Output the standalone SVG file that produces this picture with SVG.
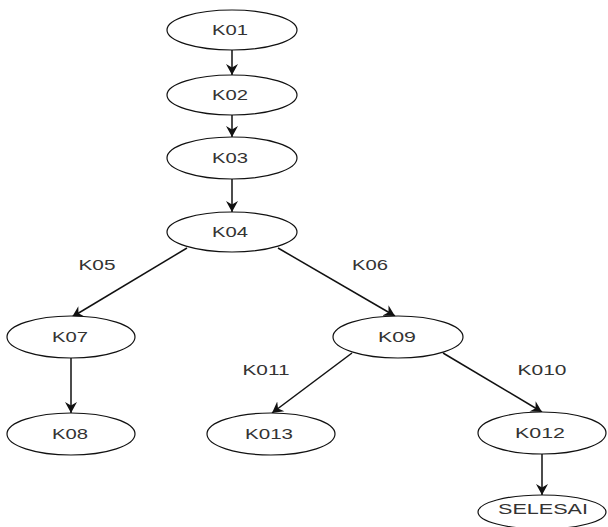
<svg xmlns="http://www.w3.org/2000/svg" width="608" height="527" viewBox="0 0 608 527">
<style>
.n ellipse{fill:#fff;stroke:#111;stroke-width:1.2}
text{font-family:"Liberation Sans",Arial,sans-serif;font-size:14.5px;fill:#333;text-anchor:middle;dominant-baseline:central}
.e line{stroke:#111;stroke-width:1.5;marker-end:url(#arr)}
</style>
<defs>
<marker id="arr" markerUnits="userSpaceOnUse" markerWidth="13" markerHeight="13" refX="11" refY="6.5" orient="auto">
<path d="M0,0.5 L11,6.5 L0,12.5 L3.5,6.5 z" fill="#111"/>
</marker>
</defs>
<rect width="608" height="527" fill="#fff"/>
<g id="connectors" class="e">
<line x1="232" y1="50" x2="232" y2="75"/>
<line x1="232" y1="115" x2="232" y2="137"/>
<line x1="232" y1="179" x2="232" y2="212"/>
<line x1="187" y1="248" x2="72" y2="317"/>
<line x1="278" y1="248" x2="395" y2="316"/>
<line x1="71" y1="358" x2="71" y2="413"/>
<line x1="352" y1="353" x2="272" y2="413"/>
<line x1="443" y1="353" x2="542" y2="412"/>
<line x1="542" y1="454" x2="542" y2="495"/>
<text x="97" y="265" textLength="37" lengthAdjust="spacingAndGlyphs">K05</text>
<text x="370" y="265" textLength="36" lengthAdjust="spacingAndGlyphs">K06</text>
<text x="266" y="370" textLength="47" lengthAdjust="spacingAndGlyphs">K011</text>
<text x="542" y="370" textLength="49" lengthAdjust="spacingAndGlyphs">K010</text>
</g>
<g id="K01" class="n"><ellipse cx="232" cy="30" rx="65" ry="20"/><text x="230" y="30" textLength="36" lengthAdjust="spacingAndGlyphs">K01</text></g>
<g id="K02" class="n"><ellipse cx="232" cy="95" rx="65" ry="20"/><text x="230" y="95" textLength="36" lengthAdjust="spacingAndGlyphs">K02</text></g>
<g id="K03" class="n"><ellipse cx="232" cy="158" rx="65" ry="21"/><text x="230" y="158" textLength="36" lengthAdjust="spacingAndGlyphs">K03</text></g>
<g id="K04" class="n"><ellipse cx="232" cy="232" rx="65" ry="20"/><text x="230" y="232" textLength="36" lengthAdjust="spacingAndGlyphs">K04</text></g>
<g id="K07" class="n"><ellipse cx="71" cy="337" rx="64" ry="21"/><text x="70" y="337" textLength="36" lengthAdjust="spacingAndGlyphs">K07</text></g>
<g id="K08" class="n"><ellipse cx="71" cy="434" rx="64" ry="21"/><text x="70" y="434" textLength="36" lengthAdjust="spacingAndGlyphs">K08</text></g>
<g id="K09" class="n"><ellipse cx="398" cy="337" rx="65" ry="21"/><text x="397" y="337" textLength="38" lengthAdjust="spacingAndGlyphs">K09</text></g>
<g id="K013" class="n"><ellipse cx="271" cy="434" rx="64" ry="21"/><text x="269" y="434" textLength="48" lengthAdjust="spacingAndGlyphs">K013</text></g>
<g id="K012" class="n"><ellipse cx="542" cy="433" rx="64" ry="21"/><text x="540" y="433" textLength="50" lengthAdjust="spacingAndGlyphs">K012</text></g>
<g id="SELESAI" class="n"><ellipse cx="542" cy="512" rx="64" ry="17"/><text x="543" y="509" textLength="90" lengthAdjust="spacingAndGlyphs">SELESAI</text></g>
</svg>
